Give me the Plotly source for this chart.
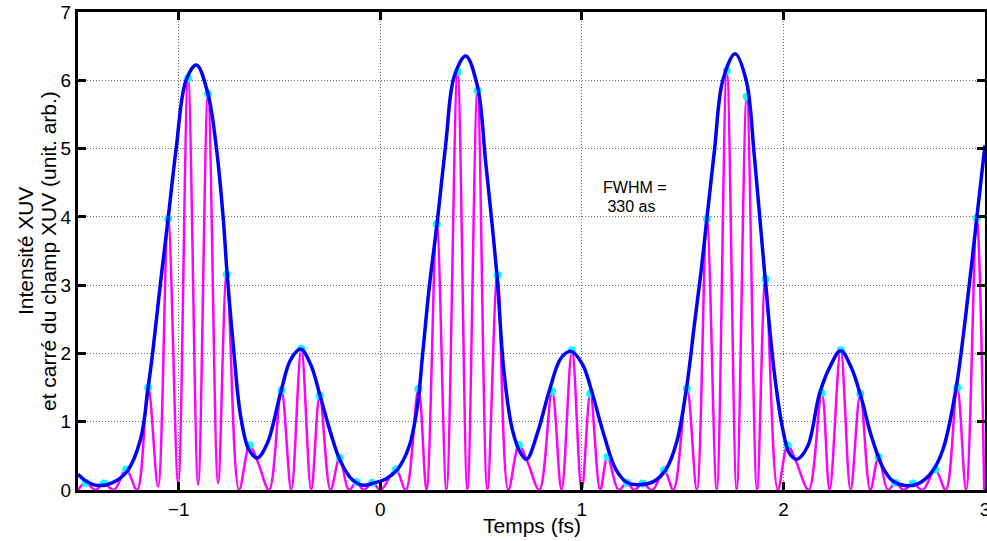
import plotly.graph_objects as go

# ---- data ----
# envelope (blue) : time (fs) and intensity
env_t = [-1.500, -1.455, -1.405, -1.331, -1.256, -1.190, -1.152, -1.128, -1.092, -1.053,
         -1.013, -0.964, -0.912, -0.855, -0.813, -0.780, -0.760, -0.726, -0.693, -0.652,
         -0.610, -0.560, -0.495, -0.445, -0.395, -0.346, -0.296, -0.247, -0.198, -0.139,
         -0.085, -0.035, 0.027, 0.085, 0.143, 0.184, 0.209, 0.242, 0.283, 0.325,
         0.366, 0.424, 0.482, 0.523, 0.578, 0.614, 0.655, 0.696, 0.726, 0.780,
         0.838, 0.896, 0.946, 1.003, 1.053, 1.111, 1.169, 1.227, 1.293, 1.359,
         1.417, 1.470, 1.519, 1.558, 1.592, 1.620, 1.658, 1.699, 1.760, 1.815,
         1.856, 1.909, 1.955, 1.997, 2.029, 2.066, 2.120, 2.178, 2.230, 2.284,
         2.337, 2.386, 2.436, 2.494, 2.543, 2.601, 2.667, 2.733, 2.791, 2.857,
         2.900, 2.959, 3.000]
env_i = [0.23, 0.12, 0.066, 0.105, 0.275, 0.74, 1.50, 2.05, 3.0, 3.97,
         5.0, 6.0, 6.225, 5.80, 5.0, 4.0, 3.16, 2.0, 1.08, 0.59,
         0.47, 0.69, 1.42, 1.91, 2.065, 1.84, 1.35, 0.84, 0.42, 0.15,
         0.07, 0.10, 0.16, 0.30, 0.64, 1.23, 1.96, 2.95, 3.94, 5.08,
         6.05, 6.357, 5.91, 4.79, 3.16, 1.71, 0.885, 0.54, 0.45, 0.84,
         1.45, 1.93, 2.03, 1.84, 1.40, 0.79, 0.30, 0.105, 0.08, 0.13,
         0.30, 0.70, 1.49, 2.42, 3.22, 3.97, 4.98, 6.0, 6.39, 6.0,
         4.88, 3.10, 1.71, 0.885, 0.54, 0.45, 0.64, 1.40, 1.80, 2.04,
         1.79, 1.35, 0.79, 0.325, 0.13, 0.066, 0.09, 0.25, 0.59, 1.50,
         2.45, 3.98, 5.05]

# squared field (magenta) : local maxima (cyan dots)
peak_t = [-1.462, -1.372, -1.261, -1.152, -1.053, -0.954, -0.855, -0.762, -0.648, -0.491,
          -0.392, -0.301, -0.202, -0.118, -0.040, 0.077, 0.189, 0.280, 0.383, 0.482,
          0.581, 0.688, 0.852, 0.951, 1.042, 1.127, 1.223, 1.301, 1.408, 1.521,
          1.620, 1.719, 1.818, 1.911, 2.021, 2.190, 2.284, 2.381, 2.472, 2.555,
          2.642, 2.753, 2.862, 2.959]
peak_i = [0.105, 0.095, 0.30, 1.50, 3.97, 6.03, 5.80, 3.16, 0.655, 1.456,
          2.07, 1.38, 0.47, 0.115, 0.105, 0.30, 1.48, 3.89, 6.12, 5.85,
          3.15, 0.655, 1.445, 2.045, 1.41, 0.485, 0.105, 0.095, 0.29, 1.485,
          3.97, 6.14, 5.76, 3.09, 0.655, 1.42, 2.045, 1.41, 0.485, 0.105,
          0.095, 0.30, 1.50, 3.98]

# squared field (magenta) : minima and shoulder points
trough_t = [-1.500, -1.413, -1.322, -1.207, -1.103, -1.003, -0.904, -0.805, -0.701, -0.610,
            -0.552, -0.442, -0.343, -0.247, -0.156, -0.082, 0.002, 0.126, 0.229, 0.328,
            0.432, 0.531, 0.635, 0.729, 0.789, 0.899, 0.999, 1.091, 1.182, 1.260,
            1.350, 1.454, 1.570, 1.669, 1.768, 1.869, 1.972, 2.062, 2.125, 2.229,
            2.333, 2.431, 2.518, 2.597, 2.691, 2.805, 2.906, 2.996]
trough_i = [0.0, 0.0, 0.0, 0.0, 0.05, 0.10, 0.08, 0.10, 0.0, 0.43,
            0.0, 0.0, 0.0, 0.0, 0.0, 0.0, 0.0, 0.0, 0.0, 0.0,
            0.0, 0.0, 0.0, 0.42, 0.0, 0.0, 0.0, 0.0, 0.0, 0.0,
            0.0, 0.0, 0.0, 0.0, 0.0, 0.0, 0.0, 0.42, 0.0, 0.0,
            0.0, 0.0, 0.0, 0.0, 0.0, 0.0, 0.0, 0.0]

x_ticks = [-1, 0, 1, 2, 3]
y_ticks = [0, 1, 2, 3, 4, 5, 6, 7]

# build the magenta line by merging maxima and minima in time order
field = sorted(zip(peak_t + trough_t, peak_i + trough_i))
field_t = [p[0] for p in field]
field_i = [p[1] for p in field]

FONT = "Liberation Sans, Arial, Helvetica, sans-serif"

fig = go.Figure()
fig.add_trace(go.Scatter(x=field_t, y=field_i, mode="lines",
                         line=dict(color="#FF00FF", width=2.5, shape="spline", smoothing=1),
                         hoverinfo="skip", showlegend=False))
fig.add_trace(go.Scatter(x=peak_t, y=peak_i, mode="markers",
                         marker=dict(color="#00FFFF", size=8, line=dict(width=0)),
                         showlegend=False))
fig.add_trace(go.Scatter(x=env_t, y=env_i, mode="lines",
                         line=dict(color="#0000FF", width=3.5, shape="spline", smoothing=1),
                         showlegend=False))

axis_common = dict(showline=True, linecolor="black", linewidth=3, mirror="ticks",
                   ticks="inside", ticklen=8, tickwidth=3, tickcolor="black",
                   showgrid=True, gridcolor="#6e6e6e", gridwidth=1, griddash="1px,2px",
                   zeroline=False, automargin=False, ticklabeloverflow="allow",
                   tickfont=dict(family=FONT, size=19, color="black"))

fig.update_xaxes(range=[-1.5, 3], tickvals=x_ticks, **axis_common)
fig.update_yaxes(range=[0, 7], tickvals=y_ticks, **axis_common)

fig.add_annotation(text="Temps (fs)", xref="paper", yref="paper", x=0.5, y=-0.075,
                   xanchor="center", yanchor="middle", showarrow=False,
                   font=dict(family=FONT, size=21, color="black"))
fig.add_annotation(text="Intensité XUV", xref="paper", yref="paper", x=-0.0584, y=0.5,
                   xanchor="center", yanchor="middle", showarrow=False, textangle=-90,
                   font=dict(family=FONT, size=21, color="black"))
fig.add_annotation(text="et carré du champ XUV (unit. arb.)", xref="paper", yref="paper",
                   x=-0.0331, y=0.5, xanchor="center", yanchor="middle", showarrow=False,
                   textangle=-90, font=dict(family=FONT, size=21, color="black"))
fig.add_annotation(text="FWHM =", x=1.093, y=4.436, xanchor="left", yanchor="middle",
                   showarrow=False, font=dict(family=FONT, size=16, color="black"))
fig.add_annotation(text=" 330 as", x=1.093, y=4.152, xanchor="left", yanchor="middle",
                   showarrow=False, font=dict(family=FONT, size=16, color="black"))

fig.update_layout(width=987, height=541, margin=dict(l=78, r=2, t=12, b=51, pad=0, autoexpand=False),
                  plot_bgcolor="white", paper_bgcolor="white", showlegend=False)

fig.write_html("out.html", config={"displayModeBar": False},
               post_script="document.body.style.margin='0';document.body.style.overflow='hidden';")
